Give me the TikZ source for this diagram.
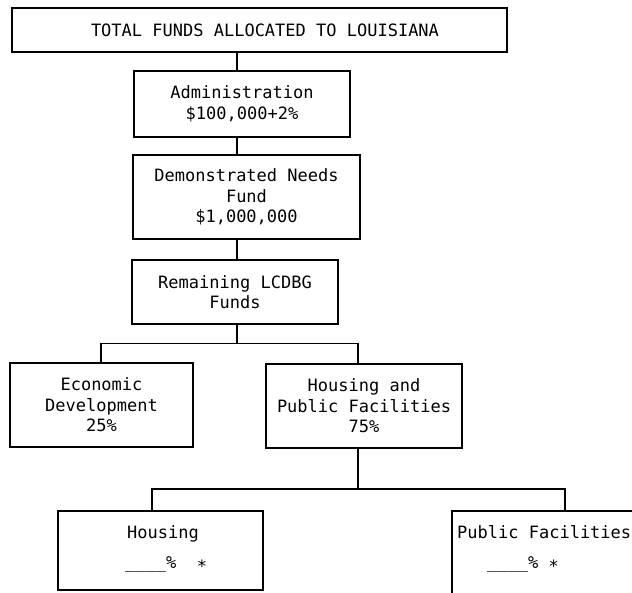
\documentclass[tikz,border=0pt]{standalone}
\usepackage{fontspec}
\newfontfamily\typefont{DejaVu Sans Mono}
\usepackage{tikz}

\tikzset{
	fundbox/.style={draw, rectangle, line width=1.3pt, inner sep=0pt, align=center,
		font=\typefont\fontsize{17}{20.5}\selectfont},
	fundtext/.style={inner sep=0pt, anchor=base west,
		font=\typefont\fontsize{17}{20.5}\selectfont},
	link/.style={line width=1.3pt}
}
\newcommand{\lowstar}{\raisebox{-4pt}{*}}

\begin{document}
\begin{tikzpicture}[x=1pt, y=-1pt]
	\useasboundingbox (0,0) rectangle (632,592);
	\clip (0,0) rectangle (632,592);
	% boxes
	\node[fundbox, minimum width=495, minimum height=44] (total) at (259.5,30) {\hspace{11pt}TOTAL FUNDS ALLOCATED TO LOUISIANA};
	\node[fundbox, minimum width=216, minimum height=66] (admin) at (242,104) {Administration\\\$100,000+2\%};
	\node[fundbox, minimum width=227, minimum height=84] (need) at (246.5,197) {Demonstrated Needs\\Fund\\\$1,000,000};
	\node[fundbox, minimum width=206, minimum height=64] (remain) at (235,292) {Remaining LCDBG\\Funds};
	\node[fundbox, minimum width=183, minimum height=84] (econ) at (101.5,405) {Economic\\Development\\25\%};
	\node[fundbox, minimum width=196, minimum height=84] (hpf) at (364,406) {Housing and\\Public Facilities\\75\%};
	\node[fundbox, minimum width=205, minimum height=79] (hous) at (160.5,550.5) {};
	\node[fundbox, minimum width=208, minimum height=85] (pubf) at (556,553.5) {};
	% texts of the lower boxes
	\node[fundtext] (houslab) at (127,538) {Housing};
	\node[fundtext] (housval) at (125,568) {\_\_\_\_\%\ \ \lowstar};
	\node[fundtext] (pubflab) at (457,538) {Public Facilities};
	\node[fundtext] (pubfval) at (487,568) {\_\_\_\_\%\ \lowstar};
	% connectors
	\coordinate (spine) at (237,0);
	\coordinate (eup) at (101,343.5);
	\coordinate (hup) at (358,343.5);
	\coordinate (hl) at (152,489);
	\coordinate (pr) at (565,489);
	\draw[link] (spine |- total.south) -- (spine |- admin.north);
	\draw[link] (spine |- admin.south) -- (spine |- need.north);
	\draw[link] (spine |- need.south) -- (spine |- remain.north);
	\draw[link] (spine |- remain.south) -- (spine |- eup);
	\draw[link] (eup |- econ.north) -- (eup) -- (hup) -- (hup |- hpf.north);
	\draw[link] (hup |- hpf.south) -- (hup |- hl);
	\draw[link] (hl |- hous.north) -- (hl) -- (pr) -- (pr |- pubf.north);
\end{tikzpicture}
\end{document}
